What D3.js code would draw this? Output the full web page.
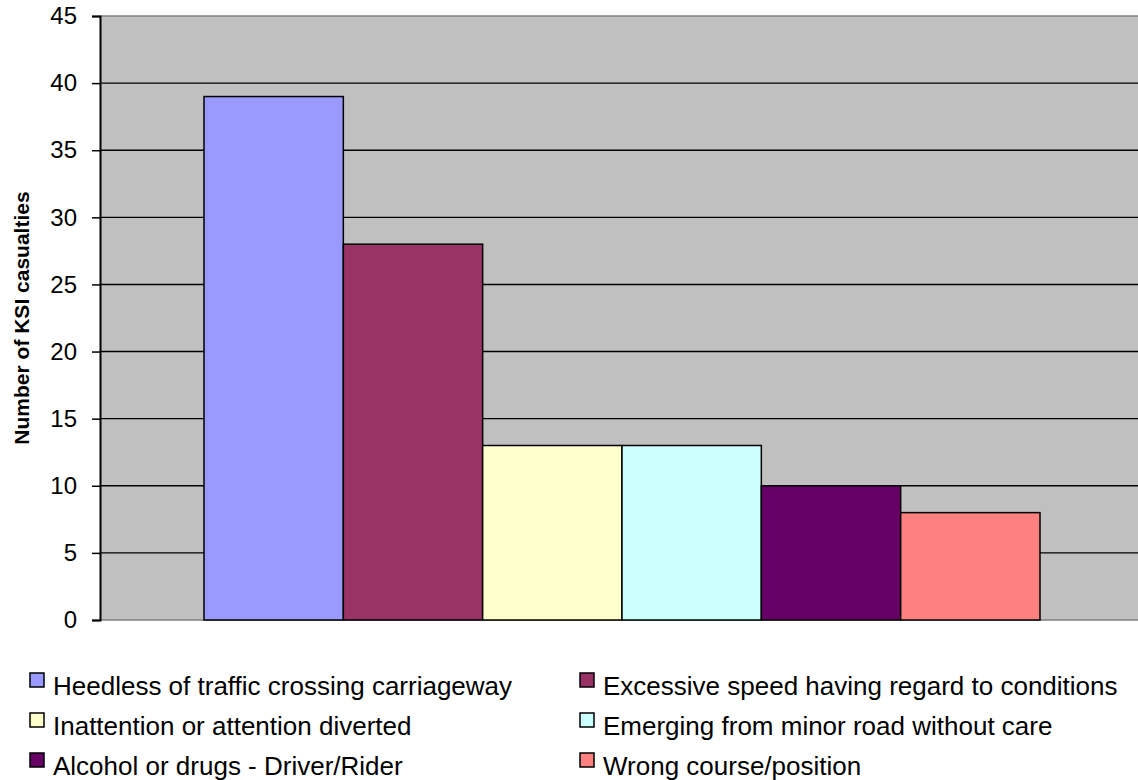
<!DOCTYPE html>
<meta charset="utf-8">
<script src="https://d3js.org/d3.v7.min.js"></script>
<style>
  body { margin: 0; background: #fff; overflow: hidden; }
  text { font-family: Arial, "Liberation Sans", sans-serif; }
</style>
<body>
<div id="chart"></div>
<script>
  // data
  var categories = [
    "Heedless of traffic crossing carriageway",
    "Excessive speed having regard to conditions",
    "Inattention or attention diverted",
    "Emerging from minor road without care",
    "Alcohol or drugs - Driver/Rider",
    "Wrong course/position"
  ];
  var values = [39, 28, 13, 13, 10, 8];
  var colors = ["#9999FF", "#993366", "#FFFFCC", "#CCFFFF", "#660066", "#FF8080"];
  var yTicks = [0, 5, 10, 15, 20, 25, 30, 35, 40, 45];

  var width = 1138, height = 780;
  // plot area runs slightly past the right edge, as in the original
  var margin = { top: 16, right: -6, bottom: 160, left: 100 };
  var plotW = width - margin.left - margin.right;
  var plotH = height - margin.top - margin.bottom;

  var svg = d3.select("#chart").append("svg")
    .attr("width", width)
    .attr("height", height);

  var g = svg.append("g")
    .attr("transform", "translate(" + margin.left + "," + margin.top + ")");

  // scales
  var y = d3.scaleLinear().domain([0, 45]).range([plotH, 0]);
  var x0 = d3.scaleBand().domain(["all"]).range([0, plotW]).paddingInner(0).paddingOuter(0.1244);
  var x1 = d3.scaleBand().domain(categories).range([0, x0.bandwidth()]);

  // plot background
  g.append("rect")
    .attr("x", 0).attr("y", 0)
    .attr("width", plotW).attr("height", plotH)
    .attr("fill", "#C0C0C0");

  // gridlines
  g.selectAll(".grid")
    .data(yTicks.filter(function (d) { return d > 0 && d < 45; }))
    .enter().append("line")
    .attr("x1", 0).attr("x2", plotW)
    .attr("y1", function (d) { return y(d); })
    .attr("y2", function (d) { return y(d); })
    .attr("stroke", "#000")
    .attr("stroke-width", 1.4);

  // top and bottom borders
  g.append("line").attr("x1", 0).attr("x2", plotW).attr("y1", y(45)).attr("y2", y(45))
    .attr("stroke", "#808080").attr("stroke-width", 1.4);
  g.append("line").attr("x1", 0).attr("x2", plotW).attr("y1", y(0)).attr("y2", y(0))
    .attr("stroke", "#808080").attr("stroke-width", 1.4);

  // bars
  g.selectAll(".bar")
    .data(categories)
    .enter().append("rect")
    .attr("x", function (d) { return x0("all") + x1(d); })
    .attr("y", function (d, i) { return y(values[i]); })
    .attr("width", x1.bandwidth())
    .attr("height", function (d, i) { return y(0) - y(values[i]); })
    .attr("fill", function (d, i) { return colors[i]; })
    .attr("stroke", "#000")
    .attr("stroke-width", 1.5);

  // y axis
  var yAxis = g.append("g")
    .call(d3.axisLeft(y).tickValues(yTicks).tickSize(8).tickPadding(15));
  yAxis.select(".domain").attr("stroke", "#000").attr("stroke-width", 2);
  yAxis.selectAll(".tick line").attr("stroke", "#000").attr("stroke-width", 1.5);
  yAxis.selectAll(".tick text")
    .attr("font-size", "24px")
    .attr("fill", "#000")
    .attr("font-family", "Arial, 'Liberation Sans', sans-serif");

  // y axis title
  svg.append("text")
    .attr("transform", "translate(23," + (margin.top + plotH / 2) + ") rotate(-90)")
    .attr("text-anchor", "middle")
    .attr("dominant-baseline", "middle")
    .attr("font-size", "21px")
    .attr("font-weight", "bold")
    .text("Number of KSI casualties");

  // legend
  var legend = svg.append("g");
  var colX = [30, 580];
  var rowY = [673, 713, 753];
  var item = legend.selectAll(".item")
    .data(categories)
    .enter().append("g")
    .attr("transform", function (d, i) {
      return "translate(" + colX[i % 2] + "," + rowY[Math.floor(i / 2)] + ")";
    });
  item.append("rect")
    .attr("x", 0).attr("y", 0)
    .attr("width", 14).attr("height", 14)
    .attr("fill", function (d, i) { return colors[i]; })
    .attr("stroke", "#000")
    .attr("stroke-width", 1.5);
  item.append("text")
    .attr("x", 23)
    .attr("y", 22)
    .attr("font-size", "26px")
    .attr("fill", "#000")
    .text(function (d) { return d; });
</script>
</body>
